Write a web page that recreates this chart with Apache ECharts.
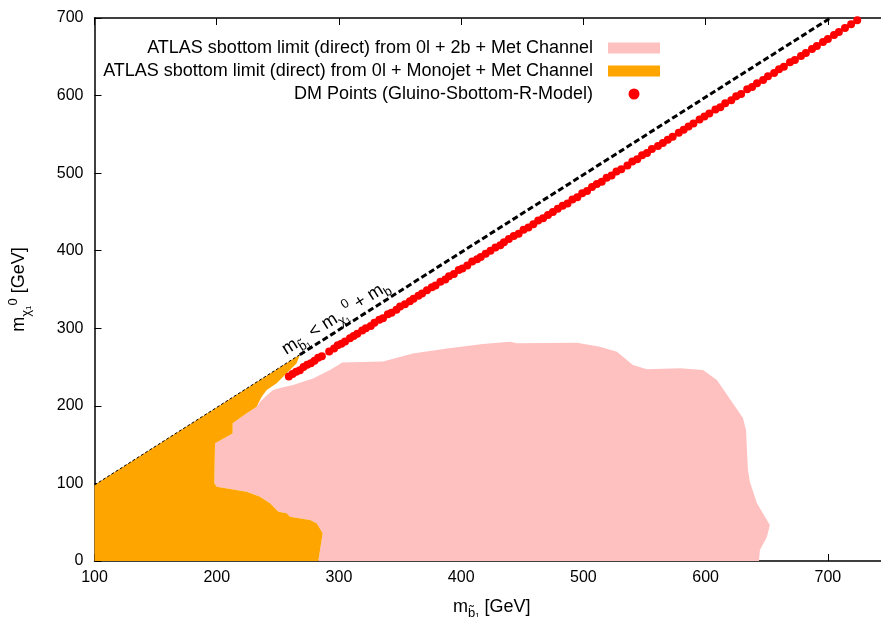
<!DOCTYPE html>
<html>
<head>
<meta charset="utf-8">
<script src="https://cdn.jsdelivr.net/npm/echarts@6/dist/echarts.min.js"></script>
<style>
html, body { margin: 0; padding: 0; background: #fff; }
#main { width: 881px; height: 617px; }
</style>
</head>
<body>
<div id="main"></div>
<script>
var xTicks = [100, 200, 300, 400, 500, 600, 700];
var yTicks = [0, 100, 200, 300, 400, 500, 600, 700];

var pinkName = 'ATLAS sbottom limit (direct) from 0l + 2b + Met Channel';
var orangeName = 'ATLAS sbottom limit (direct) from 0l + Monojet + Met Channel';
var dmName = 'DM Points (Gluino-Sbottom-R-Model)';

// 0l + 2b exclusion contour
var pinkX = [283.1, 286.7, 281.8, 276.3, 259.9, 257.2, 250.4, 243.6, 235.4, 224.5, 200.0, 198.0, 198.6, 210.8, 213.0, 213.0, 224.5, 232.7,
    235.4, 240.3, 246.1, 253.4, 262.4, 278.8, 292.6, 300.8, 302.5, 336.0, 360.5, 388.3, 417.8, 439.9, 445.6, 494.7, 513.5, 527.4,
    540.5, 551.9, 578.9, 597.8, 609.2, 630.5, 633.0, 634.6, 636.2, 641.9, 652.5, 650.1, 644.4, 643.6];
var pinkY = [0, 35.7, 48.6, 52.9, 57.1, 61.5, 63.6, 74.4, 82.9, 89.3, 95.8, 100.2, 151.7, 162.4, 164.6, 177.5, 190.4, 198.9,
    205.0, 212.7, 220.4, 223.7, 226.9, 235.3, 246.2, 254.0, 255.9, 257.2, 267.5, 273.9, 279.7, 282.7, 280.6, 281.4, 276.3, 269.8,
    252.7, 247.1, 248.4, 246.2, 233.3, 184.3, 168.9, 117.3, 101.8, 74.8, 46.4, 30.9, 14.2, 0];

// monojet exclusion contour
var orangeX = [100, 100, 268, 265.4, 254.4, 249.0, 240.9, 236.8, 234.0, 232.7, 224.5, 213.0, 213.0, 210.8, 198.6, 198.0, 200.0,
    224.5, 235.4, 243.6, 250.4, 257.2, 259.9, 276.3, 281.8, 286.7, 283.1];
var orangeY = [0, 98, 266, 254.9, 237.6, 229.1, 220.4, 211.8, 203.3, 198.9, 190.4, 177.5, 164.6, 162.4, 151.7, 100.2, 95.8,
    89.3, 82.9, 74.4, 63.6, 61.5, 57.1, 52.9, 48.6, 35.7, 0];

// kinematic boundary m_sb = m_chi + m_b
var edgeX = [100, 268];
var edgeY = [98, 266];
var boundX = [268, 702];
var boundY = [266, 700];

var dmX = [259, 262, 265, 268, 271, 274, 277, 280, 283, 286, 292, 296, 299, 302, 305, 309, 312, 315, 319, 322, 326, 329, 333, 336,
    340, 343, 347, 350, 354, 358, 361, 365, 368, 372, 376, 379, 383, 387, 390, 394, 398, 401, 405, 409, 413, 416, 420, 424, 428, 432,
    435, 439, 443, 447, 451, 455, 459, 463, 467, 471, 475, 479, 483, 487, 491, 495, 499, 503, 507, 511, 515, 519, 523, 527, 531, 536,
    540, 544, 548, 552, 556, 561, 565, 569, 573, 578, 582, 586, 590, 595, 599, 603, 608, 612, 616, 621, 625, 629, 634, 638, 642, 647,
    651, 656, 660, 664, 669, 673, 678, 682, 687, 691, 696, 700, 705, 709, 714, 719, 724];
var dmY = [238, 241, 244, 246, 250, 253, 255, 258, 262, 264, 270, 274, 278, 280, 283, 287, 290, 293, 297, 300, 303, 307, 311, 313,
    318, 320, 324, 328, 331, 335, 338, 342, 345, 349, 353, 355, 360, 363, 367, 370, 375, 377, 381, 386, 389, 392, 396, 400, 404, 407,
    411, 415, 419, 422, 427, 430, 434, 439, 442, 446, 450, 454, 458, 461, 466, 469, 474, 477, 482, 486, 489, 494, 497, 502, 505, 510,
    515, 518, 523, 526, 531, 535, 539, 543, 547, 552, 556, 560, 564, 569, 573, 577, 582, 585, 590, 594, 599, 602, 608, 611, 616, 620,
    625, 629, 634, 637, 643, 646, 651, 655, 660, 664, 669, 673, 678, 682, 687, 692, 697];

function zip(xs, ys) {
    return xs.map(function (x, i) { return [x, ys[i]]; });
}

function polygonItem(xs, ys, color) {
    return function (params, api) {
        if (params.dataIndex !== 0) return;
        var pts = xs.map(function (x, i) { return api.coord([x, ys[i]]); });
        return { type: 'polygon', shape: { points: pts }, style: { fill: color } };
    };
}

var font = 'Liberation Sans';
var richSub = {
    m: { fontSize: 18, fontFamily: font, color: '#000', lineHeight: 26 },
    s: { fontSize: 13, fontFamily: font, color: '#000', lineHeight: 15, verticalAlign: 'bottom' },
    p: { fontSize: 13, fontFamily: font, color: '#000', lineHeight: 19, verticalAlign: 'top' }
};

var dom = document.getElementById('main');
var myChart = echarts.init(dom);
var option = {
    animation: false,
    backgroundColor: '#fff',
    textStyle: { fontFamily: font },
    grid: { left: 94.5, right: -8, top: 18, bottom: 56, outerBoundsMode: 'none', containLabel: false },
    legend: {
        orient: 'vertical',
        align: 'right',
        right: 216,
        top: 34,
        itemWidth: 52,
        itemHeight: 11,
        itemGap: 5,
        selectedMode: false,
        textStyle: { fontSize: 18, fontFamily: font, color: '#000', lineHeight: 18, padding: [0, 10, 0, 0] },
        data: [
            { name: pinkName, icon: 'rect' },
            { name: orangeName, icon: 'rect' },
            { name: dmName, icon: 'circle' }
        ]
    },
    xAxis: [{
        type: 'value',
        min: 100, max: 750, interval: 100,
        name: '{m|m}{s|b̃₁}{m| [GeV]}',
        nameLocation: 'middle',
        nameGap: 33,
        nameTextStyle: { rich: richSub },
        axisLine: { lineStyle: { color: '#000', width: 1.5 } },
        axisTick: { inside: true, length: 7, lineStyle: { color: '#000' } },
        axisLabel: {
            margin: 9, fontSize: 16, color: '#000', fontFamily: font,
            formatter: function (v) { return xTicks.indexOf(v) >= 0 ? v : ''; }
        },
        splitLine: { show: false }
    }, {
        type: 'value',
        position: 'top',
        min: 100, max: 750, interval: 100,
        axisLine: { lineStyle: { color: '#000', width: 1.5 } },
        axisTick: { inside: true, length: 7, lineStyle: { color: '#000' } },
        axisLabel: { show: false },
        splitLine: { show: false }
    }],
    yAxis: {
        type: 'value',
        min: 0, max: 700, interval: 100,
        name: '{m|m}{s|χ₁}{p|0}{m| [GeV]}',
        nameLocation: 'middle',
        nameGap: 62,
        nameTextStyle: { rich: richSub },
        axisLine: { show: true, lineStyle: { color: '#000', width: 1.5 } },
        axisTick: { show: true, inside: true, length: 7, lineStyle: { color: '#000' } },
        axisLabel: {
            margin: 11, fontSize: 16, color: '#000', fontFamily: font,
            formatter: function (v) { return yTicks.indexOf(v) >= 0 ? v : ''; }
        },
        splitLine: { show: false }
    },
    series: [{
        name: pinkName,
        type: 'custom',
        renderItem: polygonItem(pinkX, pinkY, '#ffc0c0'),
        itemStyle: { color: '#ffc0c0' },
        encode: { x: 0, y: 1 },
        data: zip(pinkX, pinkY),
        z: 1
    }, {
        name: orangeName,
        type: 'custom',
        renderItem: polygonItem(orangeX, orangeY, '#ffa500'),
        itemStyle: { color: '#ffa500' },
        encode: { x: 0, y: 1 },
        data: zip(orangeX, orangeY),
        z: 2
    }, {
        type: 'line',
        data: zip(edgeX, edgeY),
        symbol: 'none',
        lineStyle: { color: '#000', width: 1, type: [3, 2] },
        z: 3
    }, {
        type: 'line',
        data: zip(boundX, boundY),
        symbol: 'none',
        lineStyle: { color: '#000', width: 3, type: [6, 3] },
        z: 3
    }, {
        name: dmName,
        type: 'scatter',
        data: zip(dmX, dmY),
        symbol: 'circle',
        symbolSize: 8,
        itemStyle: { color: '#ff0000', opacity: 1 },
        z: 4
    }]
};
myChart.setOption(option, true);

// label along the kinematic boundary
var p0 = myChart.convertToPixel({ gridIndex: 0 }, [boundX[0] - 8, boundY[0] - 8]);
var p1 = myChart.convertToPixel({ gridIndex: 0 }, [boundX[1], boundY[1]]);
var ang = Math.atan2(p0[1] - p1[1], p1[0] - p0[0]);
myChart.setOption({
    graphic: [{
        type: 'text',
        x: p0[0], y: p0[1],
        rotation: ang,
        z: 10,
        style: {
            x: 0, y: 1,
            text: '{m|m}{s|b̃₁}{m| < m}{s|χ₁}{p|0}{m| + m}{s|b}',
            rich: richSub,
            align: 'left',
            verticalAlign: 'bottom'
        }
    }]
});
</script>
</body>
</html>
